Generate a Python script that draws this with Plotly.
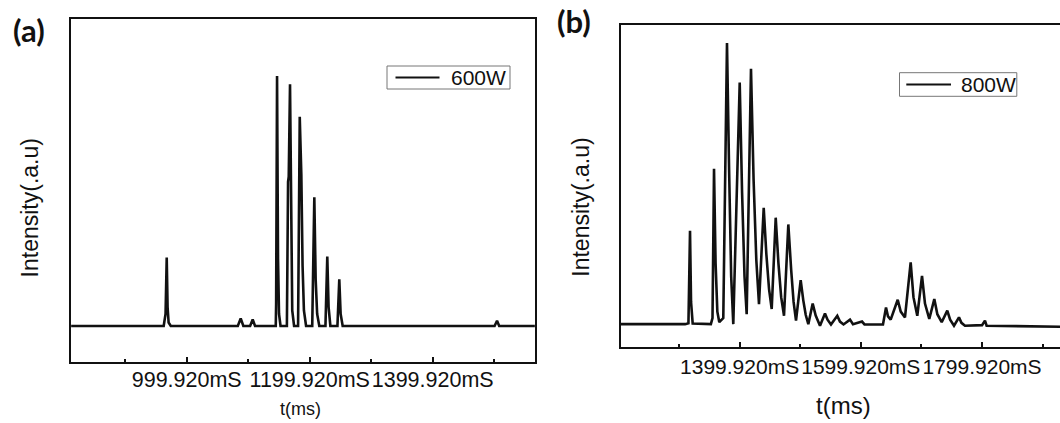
import plotly.graph_objects as go

# ---- 600 W trace: (time in ms, intensity in a.u.) vertices ----
trace_600w = [
    (812.0, 10.5), (900.0, 10.5), (962.5, 10.5),
    (965.5, 14.0), (967.4, 30.4), (968.8, 16.0), (970.5, 11.5), (974.0, 10.5),
    (1083.0, 10.5), (1087.7, 12.7), (1092.0, 10.5),
    (1103.0, 10.5), (1107.2, 12.4), (1111.0, 10.5),
    (1144.7, 10.5), (1145.3, 17.0), (1146.8, 83.3), (1148.4, 30.0), (1150.0, 14.0), (1152.5, 10.5),
    (1162.8, 10.5), (1164.7, 52.5), (1165.8, 54.0), (1167.9, 80.9), (1169.6, 35.0), (1171.5, 15.0), (1174.5, 10.5),
    (1181.0, 10.5), (1183.7, 71.4), (1186.3, 54.5), (1188.3, 28.0), (1190.5, 15.0), (1194.0, 10.5),
    (1204.0, 10.5), (1207.4, 48.0), (1209.6, 24.0), (1212.0, 14.0), (1215.5, 10.5),
    (1225.5, 10.5), (1228.5, 30.7), (1230.6, 16.0), (1233.5, 10.5),
    (1245.0, 10.5), (1248.0, 24.1), (1250.2, 14.0), (1253.5, 10.5),
    (1380.0, 10.5), (1500.5, 10.5), (1504.5, 12.0), (1508.0, 10.5), (1566.0, 10.5),
]

# ---- 800 W trace ----
trace_800w = [
    (1203.6, 7.1), (1310.0, 7.1),
    (1315.5, 7.4), (1318.1, 36.1), (1319.8, 14.0), (1322.5, 7.3),
    (1352.5, 7.1),
    (1355.2, 9.0), (1357.7, 55.4), (1360.3, 26.0), (1363.2, 11.0), (1366.4, 7.7),
    (1373.0, 9.0), (1379.1, 94.5), (1382.6, 55.0), (1386.0, 22.0), (1389.5, 7.1),
    (1400.1, 82.2), (1404.0, 48.0), (1408.0, 22.0), (1411.6, 10.2),
    (1418.7, 86.5), (1423.0, 52.0), (1427.5, 27.0), (1431.9, 13.3),
    (1439.7, 43.3), (1444.0, 29.0), (1448.5, 18.0), (1452.9, 11.8),
    (1459.5, 40.2), (1464.0, 26.0), (1468.5, 15.5), (1473.2, 9.7),
    (1480.3, 38.1), (1485.0, 24.0), (1489.0, 14.0), (1493.0, 8.2),
    (1500.7, 20.8), (1505.0, 14.5), (1509.0, 10.0), (1513.3, 7.1),
    (1520.5, 13.5), (1525.5, 9.8), (1532.6, 6.6),
    (1540.8, 10.4), (1545.0, 8.5), (1550.7, 7.0),
    (1561.1, 9.7), (1565.5, 7.9), (1571.4, 7.0),
    (1582.1, 8.5), (1587.0, 7.1), (1601.9, 7.9), (1606.0, 7.0), (1636.5, 7.0),
    (1641.5, 12.3), (1644.8, 9.5), (1649.2, 8.5),
    (1660.8, 14.7), (1665.8, 11.0), (1672.8, 9.2),
    (1682.2, 26.3), (1686.8, 15.5), (1693.1, 9.7),
    (1700.9, 22.1), (1705.8, 13.5), (1712.9, 8.7),
    (1721.2, 14.9), (1726.2, 10.2), (1733.4, 7.7),
    (1742.6, 11.3), (1747.3, 8.5), (1753.7, 6.6),
    (1761.9, 9.2), (1766.0, 7.5), (1771.8, 6.6),
    (1800.0, 6.8), (1804.8, 8.2), (1807.5, 6.6), (1928.6, 6.3),
]

# ---- axis ticks ----
ticks_a = [999.92, 1199.92, 1399.92]
minor_a = [899.92, 1099.92, 1299.92, 1499.92]
ticks_b = [1399.92, 1599.92, 1799.92]
minor_b = [1299.92, 1499.92, 1699.92, 1899.92]
range_a = [811.8, 1566.2]
range_b = [1203.6, 1928.6]

FONT = "Arial"
INK = "#111111"
W, H = 1060, 423


def tick_text(vals):
    return [f"{v:.3f}mS" for v in vals]


def px(x):
    return x / W


def py(y):
    return 1 - y / H


fig = go.Figure()

fig.add_trace(go.Scatter(
    x=[p[0] for p in trace_600w], y=[p[1] for p in trace_600w],
    mode="lines", name="600W", line=dict(color=INK, width=2.6),
    xaxis="x", yaxis="y", showlegend=False,
))
fig.add_trace(go.Scatter(
    x=[p[0] for p in trace_800w], y=[p[1] for p in trace_800w],
    mode="lines", name="800W", line=dict(color=INK, width=2.6),
    xaxis="x2", yaxis="y2", showlegend=False,
))

axis_common = dict(showgrid=False, zeroline=False, linecolor=INK, linewidth=2,
                   showline=True)

fig.update_layout(
    width=W, height=H,
    margin=dict(l=0, r=0, t=0, b=0),
    paper_bgcolor="white", plot_bgcolor="white",
    font=dict(family=FONT, color=INK),
    xaxis=dict(domain=[0.0670, 0.5047], range=range_a, mirror=True,
               tickmode="array", tickvals=ticks_a, ticktext=tick_text(ticks_a),
               tickangle=0, ticklabelstandoff=-3,
               ticks="inside", ticklen=5, tickwidth=1.5, tickcolor=INK,
               minor=dict(tickmode="array", tickvals=minor_a, ticks="inside",
                          ticklen=3, tickwidth=1.5, tickcolor=INK),
               tickfont=dict(size=21.5, family=FONT), anchor="y", **axis_common),
    yaxis=dict(domain=[0.1442, 0.9560], range=[0, 100], mirror=True,
               showticklabels=False, ticks="", anchor="x", **axis_common),
    xaxis2=dict(domain=[0.5855, 1.0], range=range_b, mirror=True,
                tickmode="array", tickvals=ticks_b, ticktext=tick_text(ticks_b),
                tickangle=0,
                ticks="inside", ticklen=5, tickwidth=1.5, tickcolor=INK,
                minor=dict(tickmode="array", tickvals=minor_b, ticks="inside",
                           ticklen=3, tickwidth=1.5, tickcolor=INK),
                tickfont=dict(size=21, family=FONT), anchor="y2", **axis_common),
    yaxis2=dict(domain=[0.1797, 0.9400], range=[0, 100], mirror=False,
                showticklabels=False, ticks="", anchor="x2", **axis_common),
)

# Legend boxes: frame, sample line and series name for each panel
legend_boxes = [
    dict(box=(387, 66, 510, 89), line=(395.5, 439.5), label="600W", text_x=449),
    dict(box=(899.5, 72.7, 1016.8, 96.3), line=(906.3, 951), label="800W", text_x=958.7),
]
for lg in legend_boxes:
    x0, y0, x1, y1 = lg["box"]
    ym = (y0 + y1) / 2
    fig.add_shape(type="rect", xref="paper", yref="paper",
                  x0=px(x0), x1=px(x1), y0=py(y1), y1=py(y0),
                  line=dict(color="#777777", width=1), fillcolor="white")
    fig.add_shape(type="line", xref="paper", yref="paper",
                  x0=px(lg["line"][0]), x1=px(lg["line"][1]), y0=py(ym), y1=py(ym),
                  line=dict(color=INK, width=2))
    fig.add_annotation(xref="paper", yref="paper", x=px(lg["text_x"]), y=py(ym),
                       xanchor="left", yanchor="middle", showarrow=False,
                       text=lg["label"], font=dict(size=21, family=FONT))

annotations = [
    dict(text="<b>(a)</b>", x=px(29), y=py(30), font=dict(size=31, family="Lato")),
    dict(text="<b>(b)</b>", x=px(574), y=py(21), font=dict(size=31, family="Lato")),
    dict(text="Intensity(.a.u)", x=px(30.4), y=py(208), textangle=-90, font=dict(size=23)),
    dict(text="Intensity(.a.u)", x=px(580.7), y=py(207), textangle=-90, font=dict(size=23)),
    dict(text="t(ms)", x=px(300), y=py(409), font=dict(size=18)),
    dict(text="t(ms)", x=px(843), y=py(405), font=dict(size=24)),
]
for a in annotations:
    fig.add_annotation(xref="paper", yref="paper", xanchor="center", yanchor="middle",
                       showarrow=False, **a)

fig.write_html("out.html")
